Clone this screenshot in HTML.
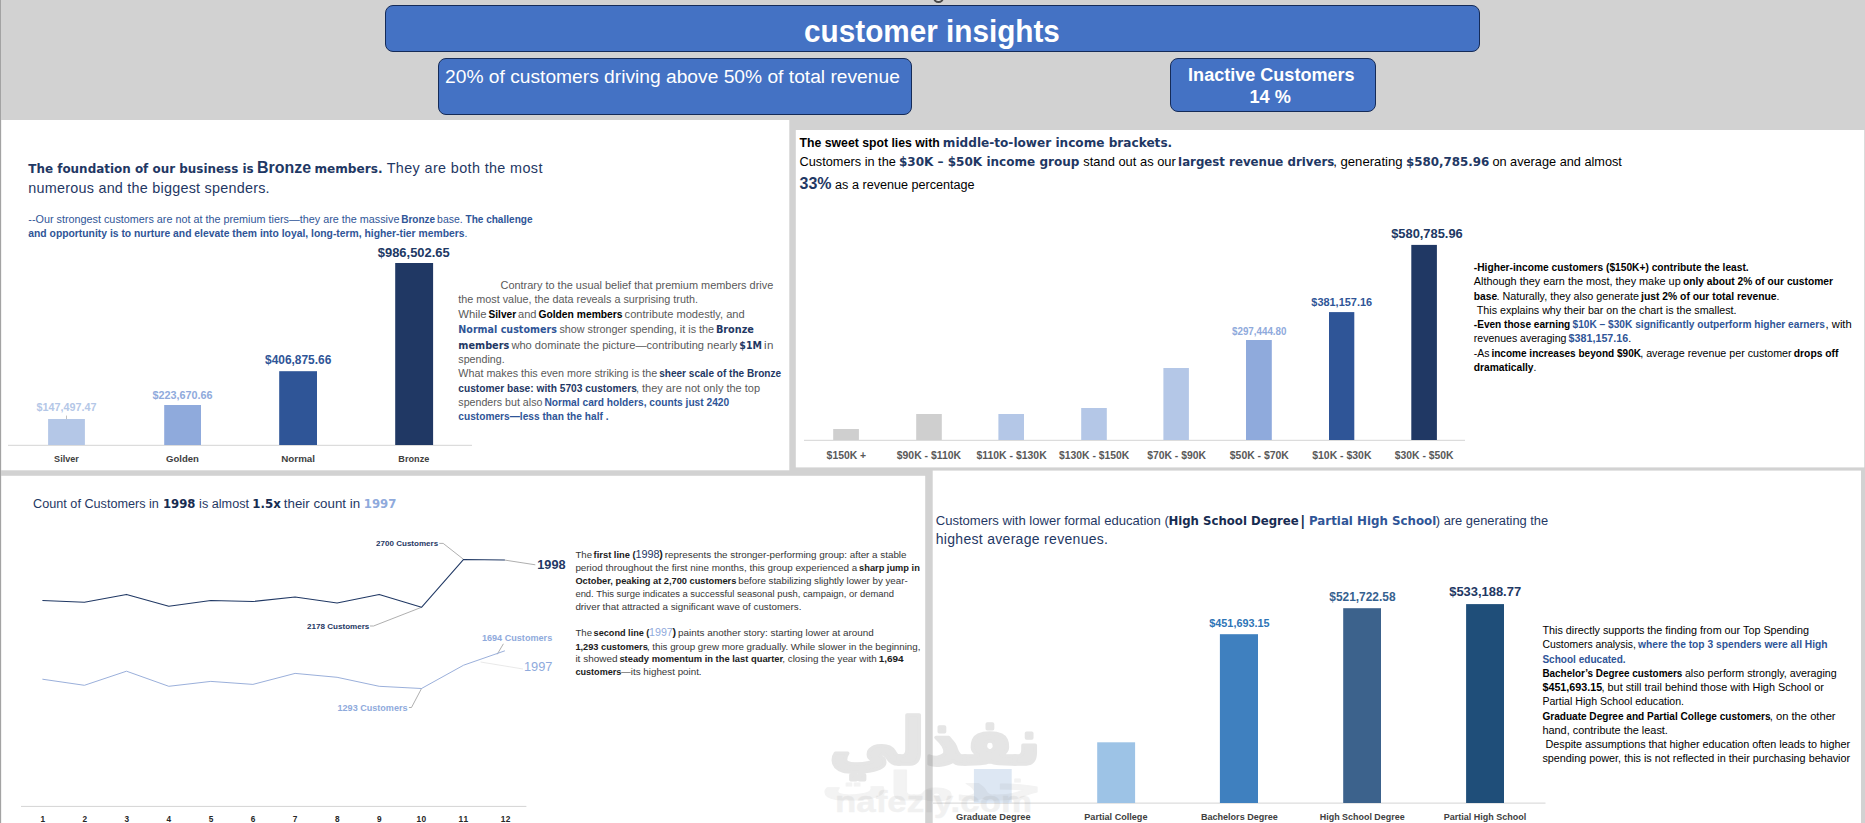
<!DOCTYPE html>
<html lang="en">
<head>
<meta charset="utf-8">
<title>customer insights</title>
<style>
  html, body { margin: 0; padding: 0; }
  body { width: 1865px; height: 823px; overflow: hidden; background: #d2d2d2;
         font-family: "Liberation Sans", sans-serif; position: relative; }
  .pill { position: absolute; background: #4472c4; border: 1px solid #152b58; box-sizing: border-box; border-radius: 8px; }
  #title-box { left: 385px; top: 5px; width: 1095px; height: 47px; }
  #kpi-revenue { left: 438px; top: 58px; width: 474px; height: 57px; }
  #kpi-inactive { left: 1170px; top: 58px; width: 206px; height: 54px; }
  #edge { position: absolute; left: 0; top: 0; width: 1px; height: 823px; background: #a3a3a3; }
  #handle { position: absolute; left: 932.9px; top: -8.6px; width: 11.6px; height: 11.6px; box-sizing: border-box; border: 2px solid #484848; background: #e6e6e6; border-radius: 50%; }
  svg#stage { position: absolute; left: 0; top: 0; }
  svg#stage text { font-family: "Liberation Sans", sans-serif; }
  svg#stage text.ar { font-family: "DejaVu Sans", "Liberation Sans", sans-serif; }
</style>
</head>
<body>
<div id="edge"></div>
<div id="handle"></div>
<div class="pill" id="title-box"></div>
<div class="pill" id="kpi-revenue"></div>
<div class="pill" id="kpi-inactive"></div>

<svg id="stage" width="1865" height="823" viewBox="0 0 1865 823">
  <!-- panels -->
  <g id="panels" fill="#ffffff">
    <rect x="1.3" y="120" width="788" height="350.3"/>
    <rect x="795.8" y="130" width="1068.4" height="337.4"/>
    <rect x="1.3" y="475.8" width="923.9" height="348"/>
    <rect x="932.7" y="470.6" width="928.3" height="353"/>
  </g>

  <!-- chart 1 : membership tiers -->
  <g id="chart-tiers">
    <rect x="8" y="444.8" width="464" height="1" fill="#d4d4d4"/>
    <rect x="48.1" y="419" width="36.8" height="26" fill="#b4c7e7"/>
    <rect x="164.2" y="405" width="36.8" height="40" fill="#8faadc"/>
    <rect x="279.2" y="371.2" width="37.8" height="73.8" fill="#2f5597"/>
    <rect x="395.2" y="263" width="37.9" height="182" fill="#203864"/>
    <rect x="66.2" y="415.6" width="0.7" height="3.4" fill="#a6a6a6"/>
  </g>

  <!-- chart 2 : income brackets -->
  <g id="chart-income">
    <rect x="804" y="439.8" width="661" height="1" fill="#d4d4d4"/>
    <rect x="833.2" y="429" width="25.7" height="11" fill="#cfcfcf"/>
    <rect x="916.2" y="414" width="25.6" height="26" fill="#cfcfcf"/>
    <rect x="998.4" y="414" width="25.6" height="26" fill="#b4c7e7"/>
    <rect x="1081.2" y="408" width="25.6" height="32" fill="#b4c7e7"/>
    <rect x="1163.4" y="368" width="25.5" height="72" fill="#b4c7e7"/>
    <rect x="1246" y="340" width="25.8" height="100" fill="#8faadc"/>
    <rect x="1329" y="312.1" width="25.3" height="127.9" fill="#2f5597"/>
    <rect x="1411.3" y="244.9" width="25.6" height="195.1" fill="#203864"/>
  </g>

  <!-- chart 3 : customers per month -->
  <g id="chart-months" fill="none">
    <rect x="21" y="805.9" width="505.4" height="1" fill="#d4d4d4"/>
    <polyline stroke="#a6a6a6" stroke-width="0.9" points="439.3,543.4 443.2,543.4 463.6,559.4"/>
    <polyline stroke="#a6a6a6" stroke-width="0.9" points="370,626 373.5,626 421.5,607.3"/>
    <polyline stroke="#a6a6a6" stroke-width="0.9" points="504.9,560.1 535.3,564.8"/>
    <polyline stroke="#a6a6a6" stroke-width="0.9" points="503.4,643.8 497.2,654.3"/>
    <polyline stroke="#a6a6a6" stroke-width="0.9" points="408.9,707.5 411.5,707.5 421.5,688.5"/>
    <polyline stroke="#e6e6e6" stroke-width="0.9" points="480.6,662 523,669"/>
    <polyline stroke="#203864" stroke-width="1.05" stroke-linejoin="round"
      points="42.4,600.5 84.4,602.2 126.5,594.4 168.8,606.3 210.8,600.5 252.9,601.5 295.1,597.1 337.1,602.9 379.2,594.4 421.5,607.3 463.6,559.4 504.9,560.1"/>
    <polyline stroke="#8fa6d6" stroke-width="0.9" stroke-linejoin="round"
      points="42.4,679.2 84.4,685.3 126.5,671.2 168.8,686.3 210.8,681.4 252.9,684.4 295.1,673.4 337.1,677.3 379.2,686.3 421.5,688.5 463.6,665.2 504.9,650.8"/>
  </g>

  <!-- chart 4 : education -->
  <g id="chart-education">
    <rect x="933" y="802.6" width="612.5" height="1" fill="#d4d4d4"/>
    <rect x="973.9" y="769" width="37.8" height="34" fill="#dde7f3"/>
    <rect x="1097.2" y="742.3" width="37.9" height="60.7" fill="#9dc3e6"/>
    <rect x="1219.9" y="634.2" width="38.1" height="168.8" fill="#3f80bf"/>
    <rect x="1343.2" y="608.2" width="37.8" height="194.8" fill="#3c628c"/>
    <rect x="1466.1" y="604.1" width="37.9" height="198.9" fill="#1f4e79"/>
  </g>

  <!-- watermark -->
  <g id="watermark" fill="#7f7f7f" stroke="#7f7f7f" stroke-linejoin="round">
    <text class="ar" x="1041" y="764" font-size="64" font-weight="700" text-anchor="end" opacity="0.2" stroke-width="3.4" textLength="212" lengthAdjust="spacingAndGlyphs">نفذلي</text>
    <text class="ar" x="1043" y="800" font-size="40" font-weight="700" text-anchor="end" opacity="0.09" stroke-width="1" textLength="222" lengthAdjust="spacingAndGlyphs">خدمات</text>
    <text x="835" y="812" font-size="30" font-weight="700" opacity="0.10" stroke-width="0.5" textLength="197" lengthAdjust="spacingAndGlyphs">nafezly.com</text>
  </g>

  <!-- all text -->
  <g id="labels">
<text x="804.1" y="41.8" font-size="30.8" textLength="255.8" lengthAdjust="spacingAndGlyphs" xml:space="preserve"><tspan fill="#ffffff" font-weight="700">customer insights</tspan></text>
<text x="445.1" y="82.6" font-size="19.21" textLength="454.7" lengthAdjust="spacing" xml:space="preserve"><tspan fill="#ffffff">20% of customers driving above 50% of total revenue</tspan></text>
<text x="1188.1" y="80.9" font-size="18.06" textLength="166.5" lengthAdjust="spacingAndGlyphs" xml:space="preserve"><tspan fill="#ffffff" font-weight="700">Inactive Customers</tspan></text>
<text x="1249.5" y="103.3" font-size="18.17" textLength="41.4" lengthAdjust="spacingAndGlyphs" xml:space="preserve"><tspan fill="#ffffff" font-weight="700">14 %</tspan></text>
<text x="28.3" y="173.2" font-size="13.0" textLength="225.4" lengthAdjust="spacingAndGlyphs" xml:space="preserve"><tspan fill="#1f3864" font-weight="700" font-family="DejaVu Sans, sans-serif">The foundation of our business is</tspan></text>
<text x="257.0" y="173.2" font-size="15.93" textLength="54.0" lengthAdjust="spacingAndGlyphs" xml:space="preserve"><tspan fill="#1f3864" font-weight="700">Bronze</tspan></text>
<text x="314.4" y="173.2" font-size="13.0" textLength="68.1" lengthAdjust="spacingAndGlyphs" xml:space="preserve"><tspan fill="#1f3864" font-weight="700" font-family="DejaVu Sans, sans-serif">members.</tspan></text>
<text x="386.7" y="173.2" font-size="14.4" textLength="155.7" lengthAdjust="spacing" xml:space="preserve"><tspan fill="#1f3864">They are both the most</tspan></text>
<text x="28.3" y="193.1" font-size="14.4" textLength="241.3" lengthAdjust="spacing" xml:space="preserve"><tspan fill="#1f3864">numerous and the biggest spenders.</tspan></text>
<text x="28.3" y="223.0" font-size="10.81" textLength="371.1" lengthAdjust="spacing" xml:space="preserve"><tspan fill="#2f5597">--Our strongest customers are not at the premium tiers—they are the massive</tspan></text>
<text x="401.2" y="223.0" font-size="10.14" textLength="34.0" lengthAdjust="spacingAndGlyphs" xml:space="preserve"><tspan fill="#2f5597" font-weight="700">Bronze</tspan></text>
<text x="437.1" y="223.0" font-size="10.47" textLength="25.6" lengthAdjust="spacing" xml:space="preserve"><tspan fill="#2f5597">base.</tspan></text>
<text x="465.5" y="223.0" font-size="10.14" textLength="67.0" lengthAdjust="spacingAndGlyphs" xml:space="preserve"><tspan fill="#2f5597" font-weight="700">The challenge</tspan></text>
<text x="28.3" y="236.9" font-size="10.35" textLength="439.1" lengthAdjust="spacingAndGlyphs" xml:space="preserve"><tspan fill="#2f5597" font-weight="700">and opportunity is to nurture and elevate them into loyal, long-term, higher-tier members</tspan><tspan fill="#2f5597">.</tspan></text>
<text x="36.6" y="410.8" font-size="10.79" textLength="60.0" lengthAdjust="spacing" xml:space="preserve"><tspan fill="#b4c7e7" font-weight="700">$147,497.47</tspan></text>
<text x="152.4" y="398.9" font-size="10.83" textLength="60.2" lengthAdjust="spacing" xml:space="preserve"><tspan fill="#8faadc" font-weight="700">$223,670.66</tspan></text>
<text x="265.0" y="363.7" font-size="11.93" textLength="66.3" lengthAdjust="spacing" xml:space="preserve"><tspan fill="#2f5597" font-weight="700">$406,875.66</tspan></text>
<text x="377.8" y="256.9" font-size="12.94" textLength="71.9" lengthAdjust="spacing" xml:space="preserve"><tspan fill="#203864" font-weight="700">$986,502.65</tspan></text>
<text x="54.1" y="462.4" font-size="9.36" textLength="24.7" lengthAdjust="spacingAndGlyphs" xml:space="preserve"><tspan fill="#404040" font-weight="700">Silver</tspan></text>
<text x="166.1" y="462.4" font-size="9.53" textLength="32.8" lengthAdjust="spacingAndGlyphs" xml:space="preserve"><tspan fill="#404040" font-weight="700">Golden</tspan></text>
<text x="281.3" y="462.4" font-size="9.79" textLength="33.7" lengthAdjust="spacing" xml:space="preserve"><tspan fill="#404040" font-weight="700">Normal</tspan></text>
<text x="398.3" y="462.4" font-size="9.36" textLength="31.0" lengthAdjust="spacingAndGlyphs" xml:space="preserve"><tspan fill="#404040" font-weight="700">Bronze</tspan></text>
<text x="500.5" y="288.8" font-size="10.93" textLength="272.8" lengthAdjust="spacing" xml:space="preserve"><tspan fill="#595959">Contrary to the usual belief that premium members drive</tspan></text>
<text x="458.3" y="303.0" font-size="10.8" textLength="239.6" lengthAdjust="spacing" xml:space="preserve"><tspan fill="#595959">the most value, the data reveals a surprising truth.</tspan></text>
<text x="458.3" y="317.9" font-size="11.31" textLength="28.3" lengthAdjust="spacing" xml:space="preserve"><tspan fill="#595959">While</tspan></text>
<text x="488.5" y="317.9" font-size="10.24" textLength="27.6" lengthAdjust="spacingAndGlyphs" xml:space="preserve"><tspan fill="#000000" font-weight="700">Silver</tspan></text>
<text x="518.0" y="317.9" font-size="11.08" textLength="18.5" lengthAdjust="spacing" xml:space="preserve"><tspan fill="#595959">and</tspan></text>
<text x="538.4" y="317.9" font-size="10.31" textLength="84.2" lengthAdjust="spacingAndGlyphs" xml:space="preserve"><tspan fill="#000000" font-weight="700">Golden members</tspan></text>
<text x="624.6" y="317.9" font-size="11.1" textLength="120.1" lengthAdjust="spacing" xml:space="preserve"><tspan fill="#595959">contribute modestly, and</tspan></text>
<text x="458.3" y="333.2" font-size="9.75" textLength="98.6" lengthAdjust="spacingAndGlyphs" xml:space="preserve"><tspan fill="#2f5597" font-weight="700" font-family="DejaVu Sans, sans-serif">Normal customers</tspan></text>
<text x="559.4" y="333.2" font-size="10.78" textLength="154.6" lengthAdjust="spacing" xml:space="preserve"><tspan fill="#595959">show stronger spending, it is the</tspan></text>
<text x="715.9" y="333.2" font-size="9.75" textLength="38.0" lengthAdjust="spacingAndGlyphs" xml:space="preserve"><tspan fill="#1f3864" font-weight="700" font-family="DejaVu Sans, sans-serif">Bronze</tspan></text>
<text x="458.3" y="348.6" font-size="9.75" textLength="51.0" lengthAdjust="spacingAndGlyphs" xml:space="preserve"><tspan fill="#1f3864" font-weight="700" font-family="DejaVu Sans, sans-serif">members</tspan></text>
<text x="511.4" y="348.6" font-size="11.1" textLength="225.9" lengthAdjust="spacing" xml:space="preserve"><tspan fill="#595959">who dominate the picture—contributing nearly</tspan></text>
<text x="739.3" y="348.6" font-size="9.75" textLength="22.7" lengthAdjust="spacingAndGlyphs" xml:space="preserve"><tspan fill="#1f3864" font-weight="700" font-family="DejaVu Sans, sans-serif">$1M</tspan></text>
<text x="764.1" y="348.6" font-size="11.55" textLength="9.2" lengthAdjust="spacing" xml:space="preserve"><tspan fill="#595959">in</tspan></text>
<text x="458.3" y="362.6" font-size="10.67" textLength="46.3" lengthAdjust="spacing" xml:space="preserve"><tspan fill="#595959">spending.</tspan></text>
<text x="458.3" y="376.8" font-size="10.75" textLength="198.9" lengthAdjust="spacing" xml:space="preserve"><tspan fill="#595959">What makes this even more striking is the</tspan></text>
<text x="659.2" y="376.8" font-size="10.24" textLength="121.9" lengthAdjust="spacingAndGlyphs" xml:space="preserve"><tspan fill="#1f3864" font-weight="700">sheer scale of the Bronze</tspan></text>
<text x="458.3" y="392.1" font-size="10.24" textLength="178.5" lengthAdjust="spacingAndGlyphs" xml:space="preserve"><tspan fill="#1f3864" font-weight="700">customer base: with 5703 customers</tspan></text>
<text x="635.9" y="392.1" font-size="11.01" textLength="124.2" lengthAdjust="spacing" xml:space="preserve"><tspan fill="#595959">, they are not only the top</tspan></text>
<text x="458.3" y="405.8" font-size="10.65" textLength="84.1" lengthAdjust="spacing" xml:space="preserve"><tspan fill="#595959">spenders but also</tspan></text>
<text x="544.5" y="405.8" font-size="10.24" textLength="184.7" lengthAdjust="spacingAndGlyphs" xml:space="preserve"><tspan fill="#2f5597" font-weight="700">Normal card holders, counts just 2420</tspan></text>
<text x="458.3" y="420.3" font-size="10.24" textLength="150.2" lengthAdjust="spacingAndGlyphs" xml:space="preserve"><tspan fill="#2f5597" font-weight="700">customers—less than the half .</tspan></text>
<text x="799.6" y="146.9" font-size="12.24" textLength="140.1" lengthAdjust="spacingAndGlyphs" xml:space="preserve"><tspan fill="#000000" font-weight="700">The sweet spot lies with</tspan></text>
<text x="942.8" y="146.9" font-size="12.11" textLength="229.4" lengthAdjust="spacingAndGlyphs" xml:space="preserve"><tspan fill="#1f3864" font-weight="700" font-family="DejaVu Sans, sans-serif">middle-to-lower income brackets.</tspan></text>
<text x="799.6" y="166.0" font-size="12.73" textLength="96.2" lengthAdjust="spacing" xml:space="preserve"><tspan fill="#000000">Customers in the</tspan></text>
<text x="898.9" y="166.0" font-size="12.04" textLength="180.5" lengthAdjust="spacingAndGlyphs" xml:space="preserve"><tspan fill="#1f3864" font-weight="700" font-family="DejaVu Sans, sans-serif">$30K – $50K income group</tspan></text>
<text x="1083.3" y="166.0" font-size="12.9" textLength="92.5" lengthAdjust="spacing" xml:space="preserve"><tspan fill="#000000">stand out as our</tspan></text>
<text x="1178.1" y="166.0" font-size="11.99" textLength="156.2" lengthAdjust="spacingAndGlyphs" xml:space="preserve"><tspan fill="#1f3864" font-weight="700" font-family="DejaVu Sans, sans-serif">largest revenue drivers</tspan></text>
<text x="1333.2" y="166.0" font-size="13.14" textLength="69.4" lengthAdjust="spacing" xml:space="preserve"><tspan fill="#000000">, generating</tspan></text>
<text x="1405.9" y="166.0" font-size="11.99" textLength="83.4" lengthAdjust="spacingAndGlyphs" xml:space="preserve"><tspan fill="#1f3864" font-weight="700" font-family="DejaVu Sans, sans-serif">$580,785.96</tspan></text>
<text x="1492.4" y="166.0" font-size="12.73" textLength="129.5" lengthAdjust="spacing" xml:space="preserve"><tspan fill="#000000">on average and almost</tspan></text>
<text x="799.6" y="189.0" font-size="15.98" textLength="32.0" lengthAdjust="spacingAndGlyphs" xml:space="preserve"><tspan fill="#1f3864" font-weight="700">33%</tspan></text>
<text x="835.1" y="189.0" font-size="12.61" textLength="139.5" lengthAdjust="spacing" xml:space="preserve"><tspan fill="#000000">as a revenue percentage</tspan></text>
<text x="1232.0" y="334.6" font-size="10.2" textLength="54.5" lengthAdjust="spacingAndGlyphs" xml:space="preserve"><tspan fill="#8faadc" font-weight="700">$297,444.80</tspan></text>
<text x="1311.3" y="305.7" font-size="10.95" textLength="60.8" lengthAdjust="spacing" xml:space="preserve"><tspan fill="#2f5597" font-weight="700">$381,157.16</tspan></text>
<text x="1391.2" y="237.6" font-size="12.87" textLength="71.5" lengthAdjust="spacing" xml:space="preserve"><tspan fill="#203864" font-weight="700">$580,785.96</tspan></text>
<text x="826.6" y="458.8" font-size="10.4" textLength="39.6" lengthAdjust="spacing" xml:space="preserve"><tspan fill="#595959" font-weight="700">$150K +</tspan></text>
<text x="896.8" y="458.8" font-size="10.41" textLength="64.2" lengthAdjust="spacing" xml:space="preserve"><tspan fill="#595959" font-weight="700">$90K - $110K</tspan></text>
<text x="976.4" y="458.8" font-size="10.45" textLength="70.3" lengthAdjust="spacing" xml:space="preserve"><tspan fill="#595959" font-weight="700">$110K - $130K</tspan></text>
<text x="1059.0" y="458.8" font-size="10.37" textLength="70.3" lengthAdjust="spacing" xml:space="preserve"><tspan fill="#595959" font-weight="700">$130K - $150K</tspan></text>
<text x="1147.2" y="458.8" font-size="10.35" textLength="58.7" lengthAdjust="spacing" xml:space="preserve"><tspan fill="#595959" font-weight="700">$70K - $90K</tspan></text>
<text x="1229.8" y="458.8" font-size="10.43" textLength="59.1" lengthAdjust="spacing" xml:space="preserve"><tspan fill="#595959" font-weight="700">$50K - $70K</tspan></text>
<text x="1312.2" y="458.8" font-size="10.46" textLength="59.3" lengthAdjust="spacing" xml:space="preserve"><tspan fill="#595959" font-weight="700">$10K - $30K</tspan></text>
<text x="1394.8" y="458.8" font-size="10.37" textLength="58.8" lengthAdjust="spacing" xml:space="preserve"><tspan fill="#595959" font-weight="700">$30K - $50K</tspan></text>
<text x="1473.8" y="271.4" font-size="10.33" textLength="274.9" lengthAdjust="spacingAndGlyphs" xml:space="preserve"><tspan fill="#000000" font-weight="700">-Higher-income customers ($150K+) contribute the least.</tspan></text>
<text x="1473.8" y="284.9" font-size="10.86" textLength="206.9" lengthAdjust="spacing" xml:space="preserve"><tspan fill="#000000">Although they earn the most, they make up</tspan></text>
<text x="1682.9" y="284.9" font-size="10.33" textLength="150.1" lengthAdjust="spacingAndGlyphs" xml:space="preserve"><tspan fill="#000000" font-weight="700">only about 2% of our customer</tspan></text>
<text x="1473.8" y="299.6" font-size="10.33" textLength="23.3" lengthAdjust="spacingAndGlyphs" xml:space="preserve"><tspan fill="#000000" font-weight="700">base</tspan></text>
<text x="1496.4" y="299.6" font-size="10.79" textLength="142.5" lengthAdjust="spacing" xml:space="preserve"><tspan fill="#000000">. Naturally, they also generate</tspan></text>
<text x="1641.1" y="299.6" font-size="10.33" textLength="138.3" lengthAdjust="spacingAndGlyphs" xml:space="preserve"><tspan fill="#000000" font-weight="700">just 2% of our total revenue</tspan><tspan fill="#000000">.</tspan></text>
<text x="1476.8" y="314.0" font-size="10.7" textLength="259.7" lengthAdjust="spacing" xml:space="preserve"><tspan fill="#000000">This explains why their bar on the chart is the smallest.</tspan></text>
<text x="1473.8" y="327.9" font-size="10.33" textLength="96.5" lengthAdjust="spacingAndGlyphs" xml:space="preserve"><tspan fill="#000000" font-weight="700">-Even those earning</tspan></text>
<text x="1572.5" y="327.9" font-size="10.33" textLength="252.3" lengthAdjust="spacingAndGlyphs" xml:space="preserve"><tspan fill="#2f5597" font-weight="700">$10K – $30K significantly outperform higher earners</tspan></text>
<text x="1825.6" y="327.9" font-size="11.19" textLength="26.1" lengthAdjust="spacing" xml:space="preserve"><tspan fill="#000000">, with</tspan></text>
<text x="1473.8" y="342.4" font-size="10.55" textLength="92.6" lengthAdjust="spacingAndGlyphs" xml:space="preserve"><tspan fill="#000000">revenues averaging</tspan></text>
<text x="1568.6" y="342.4" font-size="10.72" textLength="62.6" lengthAdjust="spacing" xml:space="preserve"><tspan fill="#2f5597" font-weight="700">$381,157.16</tspan><tspan fill="#000000">.</tspan></text>
<text x="1473.8" y="356.9" font-size="10.54" textLength="15.8" lengthAdjust="spacingAndGlyphs" xml:space="preserve"><tspan fill="#000000">-As</tspan></text>
<text x="1491.4" y="356.9" font-size="10.33" textLength="149.6" lengthAdjust="spacingAndGlyphs" xml:space="preserve"><tspan fill="#000000" font-weight="700">income increases beyond $90K</tspan></text>
<text x="1640.2" y="356.9" font-size="10.69" textLength="151.4" lengthAdjust="spacing" xml:space="preserve"><tspan fill="#000000">, average revenue per customer</tspan></text>
<text x="1793.8" y="356.9" font-size="10.33" textLength="44.6" lengthAdjust="spacingAndGlyphs" xml:space="preserve"><tspan fill="#000000" font-weight="700">drops off</tspan></text>
<text x="1473.8" y="371.4" font-size="10.33" textLength="62.6" lengthAdjust="spacingAndGlyphs" xml:space="preserve"><tspan fill="#000000" font-weight="700">dramatically</tspan><tspan fill="#000000">.</tspan></text>
<text x="33.1" y="508.4" font-size="12.65" textLength="125.8" lengthAdjust="spacing" xml:space="preserve"><tspan fill="#1f3864">Count of Customers in</tspan></text>
<text x="162.9" y="508.4" font-size="11.7" textLength="32.5" lengthAdjust="spacingAndGlyphs" xml:space="preserve"><tspan fill="#172c51" font-weight="700" font-family="DejaVu Sans, sans-serif">1998</tspan></text>
<text x="199.1" y="508.4" font-size="12.65" textLength="49.9" lengthAdjust="spacing" xml:space="preserve"><tspan fill="#1f3864">is almost</tspan></text>
<text x="252.3" y="508.4" font-size="11.79" textLength="28.5" lengthAdjust="spacingAndGlyphs" xml:space="preserve"><tspan fill="#172c51" font-weight="700" font-family="DejaVu Sans, sans-serif">1.5x</tspan></text>
<text x="283.8" y="508.4" font-size="13.33" textLength="76.3" lengthAdjust="spacing" xml:space="preserve"><tspan fill="#1f3864">their count in</tspan></text>
<text x="363.8" y="508.4" font-size="11.71" textLength="32.6" lengthAdjust="spacingAndGlyphs" xml:space="preserve"><tspan fill="#8faadc" font-weight="700" font-family="DejaVu Sans, sans-serif">1997</tspan></text>
<text x="376.1" y="545.8" font-size="8.02" textLength="62.0" lengthAdjust="spacing" xml:space="preserve"><tspan fill="#1f3864" font-weight="700">2700 Customers</tspan></text>
<text x="307.1" y="629.0" font-size="8.05" textLength="62.2" lengthAdjust="spacing" xml:space="preserve"><tspan fill="#1f3864" font-weight="700">2178 Customers</tspan></text>
<text x="481.9" y="640.6" font-size="9.1" textLength="70.3" lengthAdjust="spacing" xml:space="preserve"><tspan fill="#8faadc" font-weight="700">1694 Customers</tspan></text>
<text x="337.5" y="710.6" font-size="9.06" textLength="70.0" lengthAdjust="spacing" xml:space="preserve"><tspan fill="#8faadc" font-weight="700">1293 Customers</tspan></text>
<text x="537.3" y="569.2" font-size="12.72" textLength="28.3" lengthAdjust="spacing" xml:space="preserve"><tspan fill="#1f3864" font-weight="700">1998</tspan></text>
<text x="523.9" y="670.5" font-size="12.81" textLength="28.5" lengthAdjust="spacing" xml:space="preserve"><tspan fill="#8faadc">1997</tspan></text>
<text x="40.4" y="822.0" font-size="8.26" textLength="4.6" lengthAdjust="spacing" xml:space="preserve"><tspan fill="#262626" font-weight="700">1</tspan></text>
<text x="82.5" y="822.0" font-size="8.26" textLength="4.6" lengthAdjust="spacing" xml:space="preserve"><tspan fill="#262626" font-weight="700">2</tspan></text>
<text x="124.5" y="822.0" font-size="8.26" textLength="4.6" lengthAdjust="spacing" xml:space="preserve"><tspan fill="#262626" font-weight="700">3</tspan></text>
<text x="166.6" y="822.0" font-size="8.26" textLength="4.6" lengthAdjust="spacing" xml:space="preserve"><tspan fill="#262626" font-weight="700">4</tspan></text>
<text x="208.7" y="822.0" font-size="8.26" textLength="4.6" lengthAdjust="spacing" xml:space="preserve"><tspan fill="#262626" font-weight="700">5</tspan></text>
<text x="250.8" y="822.0" font-size="8.26" textLength="4.6" lengthAdjust="spacing" xml:space="preserve"><tspan fill="#262626" font-weight="700">6</tspan></text>
<text x="292.8" y="822.0" font-size="8.26" textLength="4.6" lengthAdjust="spacing" xml:space="preserve"><tspan fill="#262626" font-weight="700">7</tspan></text>
<text x="334.9" y="822.0" font-size="8.26" textLength="4.6" lengthAdjust="spacing" xml:space="preserve"><tspan fill="#262626" font-weight="700">8</tspan></text>
<text x="377.0" y="822.0" font-size="8.26" textLength="4.6" lengthAdjust="spacing" xml:space="preserve"><tspan fill="#262626" font-weight="700">9</tspan></text>
<text x="416.6" y="822.0" font-size="8.36" textLength="9.6" lengthAdjust="spacing" xml:space="preserve"><tspan fill="#262626" font-weight="700">10</tspan></text>
<text x="458.6" y="822.0" font-size="8.36" textLength="9.6" lengthAdjust="spacing" xml:space="preserve"><tspan fill="#262626" font-weight="700">11</tspan></text>
<text x="500.7" y="822.0" font-size="8.36" textLength="9.6" lengthAdjust="spacing" xml:space="preserve"><tspan fill="#262626" font-weight="700">12</tspan></text>
<text x="575.4" y="557.8" font-size="9.64" textLength="16.6" lengthAdjust="spacingAndGlyphs" xml:space="preserve"><tspan fill="#363636">The</tspan></text>
<text x="593.6" y="557.8" font-size="9.46" textLength="42.1" lengthAdjust="spacingAndGlyphs" xml:space="preserve"><tspan fill="#202020" font-weight="700">first line (</tspan></text>
<text x="635.4" y="557.8" font-size="10.92" textLength="24.1" lengthAdjust="spacingAndGlyphs" xml:space="preserve"><tspan fill="#1f3864">1998</tspan></text>
<text x="659.3" y="557.8" font-size="10.67" textLength="3.6" lengthAdjust="spacing" xml:space="preserve"><tspan fill="#202020" font-weight="700">)</tspan></text>
<text x="664.8" y="557.8" font-size="9.83" textLength="241.7" lengthAdjust="spacing" xml:space="preserve"><tspan fill="#363636">represents the stronger-performing group: after a stable</tspan></text>
<text x="575.4" y="570.7" font-size="9.86" textLength="281.8" lengthAdjust="spacing" xml:space="preserve"><tspan fill="#363636">period throughout the first nine months, this group experienced a</tspan></text>
<text x="859.1" y="570.7" font-size="9.46" textLength="60.7" lengthAdjust="spacingAndGlyphs" xml:space="preserve"><tspan fill="#202020" font-weight="700">sharp jump in</tspan></text>
<text x="575.4" y="583.8" font-size="9.46" textLength="160.9" lengthAdjust="spacingAndGlyphs" xml:space="preserve"><tspan fill="#202020" font-weight="700">October, peaking at 2,700 customers</tspan></text>
<text x="738.2" y="583.8" font-size="9.76" textLength="169.5" lengthAdjust="spacing" xml:space="preserve"><tspan fill="#363636">before stabilizing slightly lower by year-</tspan></text>
<text x="575.4" y="597.4" font-size="9.46" textLength="318.6" lengthAdjust="spacingAndGlyphs" xml:space="preserve"><tspan fill="#363636">end. This surge indicates a successful seasonal push, campaign, or demand</tspan></text>
<text x="575.4" y="609.7" font-size="9.81" textLength="226.0" lengthAdjust="spacing" xml:space="preserve"><tspan fill="#363636">driver that attracted a significant wave of customers.</tspan></text>
<text x="575.4" y="635.7" font-size="9.64" textLength="16.6" lengthAdjust="spacingAndGlyphs" xml:space="preserve"><tspan fill="#363636">The</tspan></text>
<text x="593.6" y="635.7" font-size="9.46" textLength="55.8" lengthAdjust="spacingAndGlyphs" xml:space="preserve"><tspan fill="#202020" font-weight="700">second line (</tspan></text>
<text x="649.1" y="635.7" font-size="10.92" textLength="23.7" lengthAdjust="spacingAndGlyphs" xml:space="preserve"><tspan fill="#8faadc">1997</tspan></text>
<text x="672.6" y="635.7" font-size="10.67" textLength="3.6" lengthAdjust="spacing" xml:space="preserve"><tspan fill="#202020" font-weight="700">)</tspan></text>
<text x="678.1" y="635.7" font-size="9.9" textLength="195.7" lengthAdjust="spacing" xml:space="preserve"><tspan fill="#363636">paints another story: starting lower at around</tspan></text>
<text x="575.4" y="650.2" font-size="9.46" textLength="72.4" lengthAdjust="spacingAndGlyphs" xml:space="preserve"><tspan fill="#202020" font-weight="700">1,293 customers</tspan></text>
<text x="646.9" y="650.2" font-size="9.76" textLength="273.5" lengthAdjust="spacing" xml:space="preserve"><tspan fill="#363636">, this group grew more gradually. While slower in the beginning,</tspan></text>
<text x="575.4" y="662.3" font-size="9.98" textLength="42.1" lengthAdjust="spacing" xml:space="preserve"><tspan fill="#363636">it showed</tspan></text>
<text x="619.4" y="662.3" font-size="9.46" textLength="163.8" lengthAdjust="spacingAndGlyphs" xml:space="preserve"><tspan fill="#202020" font-weight="700">steady momentum in the last quarter</tspan></text>
<text x="782.3" y="662.3" font-size="9.84" textLength="94.5" lengthAdjust="spacing" xml:space="preserve"><tspan fill="#363636">, closing the year with</tspan></text>
<text x="878.7" y="662.3" font-size="9.96" textLength="24.9" lengthAdjust="spacing" xml:space="preserve"><tspan fill="#202020" font-weight="700">1,694</tspan></text>
<text x="575.4" y="675.2" font-size="9.46" textLength="46.0" lengthAdjust="spacingAndGlyphs" xml:space="preserve"><tspan fill="#202020" font-weight="700">customers</tspan></text>
<text x="621.0" y="675.2" font-size="9.81" textLength="80.6" lengthAdjust="spacing" xml:space="preserve"><tspan fill="#363636">—its highest point.</tspan></text>
<text x="935.7" y="525.0" font-size="13.07" textLength="233.1" lengthAdjust="spacing" xml:space="preserve"><tspan fill="#1f3864">Customers with lower formal education (</tspan></text>
<text x="1168.4" y="525.0" font-size="11.99" textLength="130.4" lengthAdjust="spacingAndGlyphs" xml:space="preserve"><tspan fill="#172c51" font-weight="700" font-family="DejaVu Sans, sans-serif">High School Degree</tspan></text>
<text x="1300.2" y="525.9" font-size="14.8" textLength="5.0" lengthAdjust="spacingAndGlyphs" xml:space="preserve"><tspan fill="#172c51">|</tspan></text>
<text x="1309.0" y="525.0" font-size="11.99" textLength="127.3" lengthAdjust="spacingAndGlyphs" xml:space="preserve"><tspan fill="#2f5597" font-weight="700" font-family="DejaVu Sans, sans-serif">Partial High School</tspan></text>
<text x="1435.8" y="525.0" font-size="12.88" textLength="112.4" lengthAdjust="spacing" xml:space="preserve"><tspan fill="#1f3864">) are generating the</tspan></text>
<text x="935.7" y="543.8" font-size="14.0" textLength="172.3" lengthAdjust="spacing" xml:space="preserve"><tspan fill="#1f3864">highest average revenues.</tspan></text>
<text x="1209.3" y="627.4" font-size="10.83" textLength="60.2" lengthAdjust="spacing" xml:space="preserve"><tspan fill="#2e75b6" font-weight="700">$451,693.15</tspan></text>
<text x="1329.3" y="601.4" font-size="11.92" textLength="66.2" lengthAdjust="spacing" xml:space="preserve"><tspan fill="#35618f" font-weight="700">$521,722.58</tspan></text>
<text x="1449.2" y="596.4" font-size="12.94" textLength="71.9" lengthAdjust="spacing" xml:space="preserve"><tspan fill="#1f3864" font-weight="700">$533,188.77</tspan></text>
<text x="956.0" y="819.7" font-size="9.36" textLength="74.6" lengthAdjust="spacingAndGlyphs" xml:space="preserve"><tspan fill="#404040" font-weight="700">Graduate Degree</tspan></text>
<text x="1084.3" y="819.7" font-size="9.36" textLength="63.2" lengthAdjust="spacingAndGlyphs" xml:space="preserve"><tspan fill="#404040" font-weight="700">Partial College</tspan></text>
<text x="1200.9" y="819.7" font-size="9.36" textLength="77.0" lengthAdjust="spacingAndGlyphs" xml:space="preserve"><tspan fill="#404040" font-weight="700">Bachelors Degree</tspan></text>
<text x="1319.8" y="819.7" font-size="9.36" textLength="84.8" lengthAdjust="spacingAndGlyphs" xml:space="preserve"><tspan fill="#404040" font-weight="700">High School Degree</tspan></text>
<text x="1443.8" y="819.7" font-size="9.36" textLength="82.4" lengthAdjust="spacingAndGlyphs" xml:space="preserve"><tspan fill="#404040" font-weight="700">Partial High School</tspan></text>
<text x="1542.4" y="634.4" font-size="10.8" textLength="266.6" lengthAdjust="spacing" xml:space="preserve"><tspan fill="#000000">This directly supports the finding from our Top Spending</tspan></text>
<text x="1542.4" y="648.0" font-size="10.43" textLength="93.5" lengthAdjust="spacingAndGlyphs" xml:space="preserve"><tspan fill="#000000">Customers analysis,</tspan></text>
<text x="1638.0" y="648.0" font-size="10.43" textLength="189.6" lengthAdjust="spacingAndGlyphs" xml:space="preserve"><tspan fill="#2f5597" font-weight="700">where the top 3 spenders were all High</tspan></text>
<text x="1542.4" y="663.3" font-size="10.43" textLength="83.2" lengthAdjust="spacingAndGlyphs" xml:space="preserve"><tspan fill="#2f5597" font-weight="700">School educated.</tspan></text>
<text x="1542.4" y="676.8" font-size="10.43" textLength="140.0" lengthAdjust="spacingAndGlyphs" xml:space="preserve"><tspan fill="#000000" font-weight="700">Bachelor’s Degree customers</tspan></text>
<text x="1684.9" y="676.8" font-size="10.69" textLength="151.8" lengthAdjust="spacingAndGlyphs" xml:space="preserve"><tspan fill="#000000">also perform strongly, averaging</tspan></text>
<text x="1542.4" y="690.7" font-size="10.78" textLength="59.9" lengthAdjust="spacing" xml:space="preserve"><tspan fill="#000000" font-weight="700">$451,693.15</tspan></text>
<text x="1601.5" y="690.7" font-size="10.88" textLength="222.4" lengthAdjust="spacing" xml:space="preserve"><tspan fill="#000000">, but still trail behind those with High School or</tspan></text>
<text x="1542.4" y="704.7" font-size="10.58" textLength="141.6" lengthAdjust="spacingAndGlyphs" xml:space="preserve"><tspan fill="#000000">Partial High School education.</tspan></text>
<text x="1542.4" y="719.8" font-size="10.43" textLength="228.2" lengthAdjust="spacingAndGlyphs" xml:space="preserve"><tspan fill="#000000" font-weight="700">Graduate Degree and Partial College customers</tspan></text>
<text x="1769.8" y="719.8" font-size="11.18" textLength="65.8" lengthAdjust="spacing" xml:space="preserve"><tspan fill="#000000">, on the other</tspan></text>
<text x="1542.4" y="733.6" font-size="10.92" textLength="125.5" lengthAdjust="spacing" xml:space="preserve"><tspan fill="#000000">hand, contribute the least.</tspan></text>
<text x="1545.5" y="747.7" font-size="10.8" textLength="304.6" lengthAdjust="spacing" xml:space="preserve"><tspan fill="#000000">Despite assumptions that higher education often leads to higher</tspan></text>
<text x="1542.4" y="762.4" font-size="10.82" textLength="307.7" lengthAdjust="spacing" xml:space="preserve"><tspan fill="#000000">spending power, this is not reflected in their purchasing behavior</tspan></text>
  </g>
</svg>
</body>
</html>
